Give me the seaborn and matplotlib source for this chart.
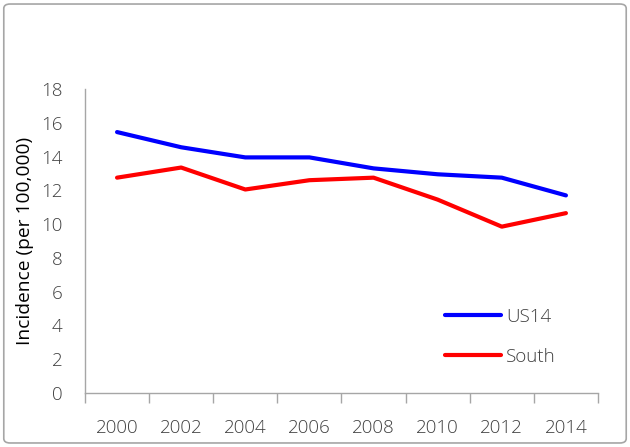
import matplotlib
matplotlib.use("Agg")
import matplotlib.pyplot as plt
from matplotlib.patches import FancyBboxPatch
from matplotlib.ticker import FixedLocator, NullFormatter
import pandas as pd
import seaborn as sns

years = [2000, 2002, 2004, 2006, 2008, 2010, 2012, 2014]
us14 = [15.45, 14.55, 13.95, 13.95, 13.3, 12.95, 12.75, 11.7]
south = [12.75, 13.35, 12.05, 12.6, 12.75, 11.45, 9.85, 10.65]
series_names = ["US14", "South"]
series_colors = ["#0000FF", "#FF0000"]

df = pd.concat([
    pd.DataFrame({"year": years, "incidence": us14, "region": "US14"}),
    pd.DataFrame({"year": years, "incidence": south, "region": "South"}),
], ignore_index=True)

sns.set_theme(style="white")
plt.rcParams["font.family"] = ["Open Sans", "DejaVu Sans"]
plt.rcParams["font.weight"] = "light"
text_col = "#404040"
spine_col = "#a6a6a6"

fig = plt.figure(figsize=(6.3, 4.47), dpi=100)
ax = fig.add_axes([0.1349, 0.1208, 0.8143, 0.6801])

sns.lineplot(data=df, x="year", y="incidence", hue="region",
             hue_order=series_names, palette=series_colors,
             linewidth=3, ax=ax)

ax.set_xlim(1999, 2015)
ax.set_ylim(0, 18)
ax.set_yticks(range(0, 19, 2))
ax.set_xticks(years)
# tick marks sit between the year categories
ax.xaxis.set_minor_locator(FixedLocator(list(range(1999, 2016, 2))))
ax.xaxis.set_minor_formatter(NullFormatter())
ax.tick_params(axis="x", which="major", length=0, pad=19,
               labelsize=13.5, labelcolor=text_col)
ax.tick_params(axis="x", which="minor", bottom=True, length=7,
               width=1, color=spine_col, direction="out")
ax.tick_params(axis="y", length=0, pad=16, labelsize=13.5, labelcolor=text_col)

for side in ["top", "right"]:
    ax.spines[side].set_visible(False)
for side in ["left", "bottom"]:
    ax.spines[side].set_color(spine_col)
    ax.spines[side].set_linewidth(1)

ax.set_xlabel("")
ax.set_ylabel("Incidence (per 100,000)", fontsize=13.8, fontweight="normal",
              color="black", labelpad=5)

leg = ax.legend(loc="upper left", bbox_to_anchor=(0.668, 0.335), frameon=False,
                handlelength=3.0, handletextpad=0.3, labelspacing=1.15,
                fontsize=13.5)
for t in leg.get_texts():
    t.set_color(text_col)

border = FancyBboxPatch((0.006, 0.009), 0.988, 0.982,
                        boxstyle="round,pad=0,rounding_size=0.01",
                        transform=fig.transFigure, facecolor="none",
                        edgecolor=spine_col, linewidth=1.2)
fig.patches.append(border)

fig.savefig("out.png", dpi=100)
